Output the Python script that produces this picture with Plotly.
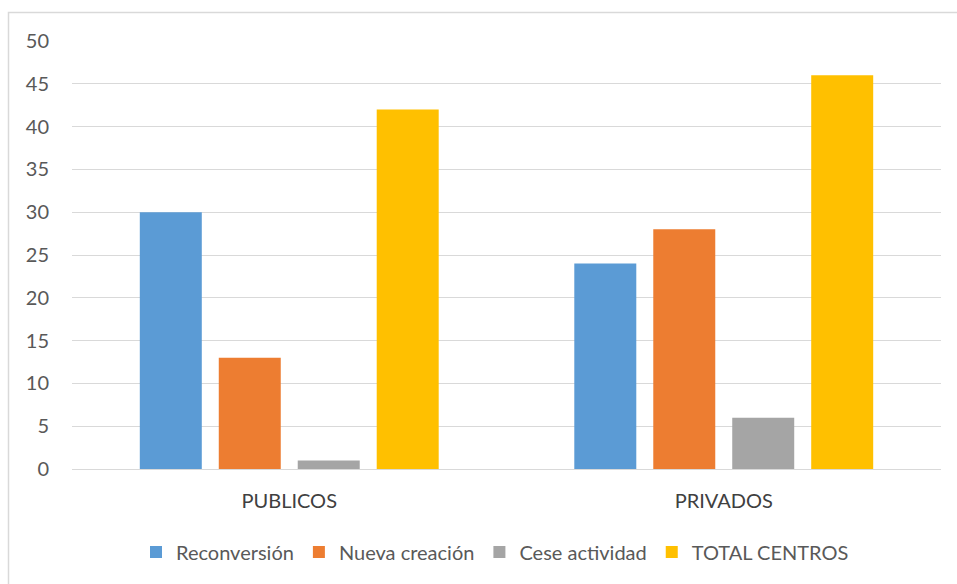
import plotly.graph_objects as go

categories = ["PUBLICOS", "PRIVADOS"]
series_names = ["Reconversión", "Nueva creación", "Cese actividad", "TOTAL CENTROS"]
reconversion = [30, 24]
nueva_creacion = [13, 28]
cese_actividad = [1, 6]
total_centros = [42, 46]
colors = ["#5B9BD5", "#ED7D31", "#A5A5A5", "#FFC000"]
y_ticks = [0, 5, 10, 15, 20, 25, 30, 35, 40, 45, 50]

fig = go.Figure()
for name, vals, col in zip(series_names, [reconversion, nueva_creacion, cese_actividad, total_centros], colors):
    fig.add_trace(go.Bar(x=categories, y=vals, name=name, marker=dict(color=col, line=dict(width=0))))

W, H = 957, 584
ml, mr, mt, mb = 72, 16, 41, 115
pw, ph = W - ml - mr, H - mt - mb

def px(x):
    return (x - ml) / pw

def py(y):
    return (H - mb - y) / ph

fig.update_layout(
    width=W, height=H,
    margin=dict(l=ml, r=mr, t=mt, b=mb),
    paper_bgcolor="white", plot_bgcolor="white",
    barmode="group", bargap=0.273, bargroupgap=0.215,
    font=dict(family="Lato", color="#595959", size=20),
    showlegend=True,
    legend=dict(orientation="h", x=px(495), xanchor="center", y=py(552), yanchor="middle",
                font=dict(size=20, color="#595959"), traceorder="normal",
                itemwidth=30, tracegroupgap=0),
    shapes=[dict(type="rect", xref="paper", yref="paper",
                 x0=px(8.5), x1=px(962), y0=py(590), y1=py(12.5),
                 line=dict(color="#D9D9D9", width=1.5), fillcolor="rgba(0,0,0,0)", layer="below")],
)
fig.update_yaxes(range=[0, 50], tickvals=y_ticks, showgrid=True, gridcolor="#D9D9D9", gridwidth=1,
                 zeroline=True, zerolinecolor="#D9D9D9", zerolinewidth=1, showline=False,
                 ticks="", ticklabelstandoff=22, tickfont=dict(size=20, color="#595959"))
fig.update_xaxes(showline=False, ticks="", ticklabelstandoff=18, tickfont=dict(size=20, color="#404040"))

fig.write_html("out.html")
